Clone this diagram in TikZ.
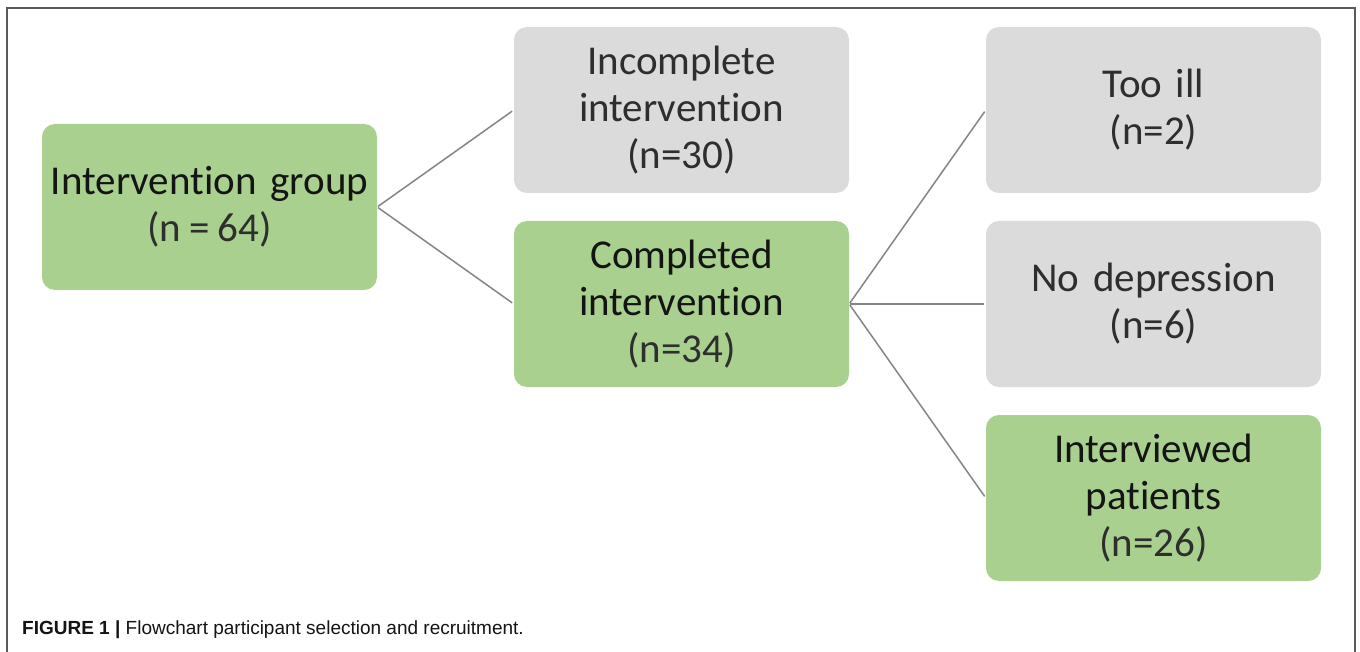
\documentclass[tikz,border=0pt]{standalone}
\usepackage{fontspec}
\setmainfont{Carlito}[Ligatures=NoCommon]
\newfontfamily\capfont{Liberation Sans}
\definecolor{boxgreen}{HTML}{A9D08E}
\definecolor{boxgrey}{HTML}{DBDBDB}
\definecolor{linegrey}{HTML}{858585}
\definecolor{framegrey}{HTML}{5A5A5A}
\definecolor{txtdark}{HTML}{141414}
\definecolor{txtlight}{HTML}{2E2E2E}
\begin{document}
\begin{tikzpicture}[x=1pt,y=-1pt,
  flowbox/.style={rectangle, rounded corners=13pt, minimum width=335pt, minimum height=166pt,
    inner sep=0pt, align=center, text width=330pt, font=\fontsize{41}{47}\selectfont},
  greenbox/.style={flowbox, fill=boxgreen, text=txtdark},
  greybox/.style={flowbox, fill=boxgrey, text=txtlight},
  link/.style={draw=linegrey, line width=1.5pt, shorten >=2pt, shorten <=1pt}]
\useasboundingbox (0,0) rectangle (1360,652);
\fill[white] (0,0) rectangle (1360,652);
\draw[framegrey, line width=1.2pt] (7,652) -- (7,8) -- (1355,8) -- (1355,652);

\node[greenbox] (grp) at (209.5,207) {Intervention group\\{\color{txtlight}(n\hspace{0.2em}=\hspace{0.2em}64)}};
\node[greybox] (inc) at (681.5,110) {Incomplete\\intervention\\(n=30)};
\node[greenbox] (cmp) at (681.5,304) {Completed\\intervention\\{\color{txtlight}(n=34)}};
\node[greybox] (ill) at (1153.5,110) {Too ill\\(n=2)};
\node[greybox] (nod) at (1153.5,304) {No depression\\(n=6)};
\node[greenbox] (int) at (1153.5,498) {Interviewed\\patients\\{\color{txtlight}(n=26)}};

\draw[link] (grp.east) -- (inc.west);
\draw[link] (grp.east) -- (cmp.west);
\draw[link] (cmp.east) -- (ill.west);
\draw[link] (cmp.east) -- (nod.west);
\draw[link] (cmp.east) -- (int.west);

\node[anchor=base west, inner sep=0pt, font=\capfont\fontsize{19}{22}\selectfont, text=txtdark] (cap) at (22,634)
  {\textbf{FIGURE 1 |} Flowchart participant selection and recruitment.};
\end{tikzpicture}
\end{document}
